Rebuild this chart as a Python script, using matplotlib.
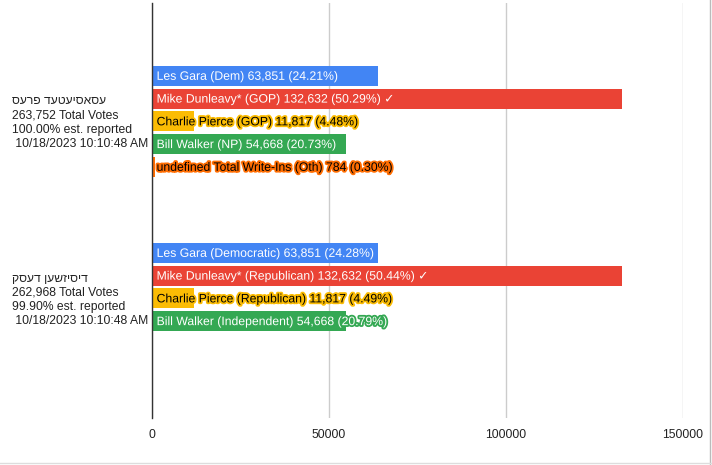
import matplotlib
matplotlib.use("Agg")
import matplotlib.pyplot as plt
import matplotlib.patheffects as pe
from matplotlib.lines import Line2D

plt.rcParams["font.family"] = ["Liberation Sans", "DejaVu Sans"]

# --- data ---
sources = ["עסאסיעטעד פרעס", "דיסיזשען דעסק"]
total_votes = ["263,752", "262,968"]
reported = ["100.00%", "99.90%"]
timestamps = ["10/18/2023 10:10:48 AM", "10/18/2023 10:10:48 AM"]

candidates = ["Les Gara", "Mike Dunleavy*", "Charlie Pierce", "Bill Walker",
              "undefined Total Write-Ins"]
parties_ap = ["Dem", "GOP", "GOP", "NP", "Oth"]
parties_dd = ["Democratic", "Republican", "Republican", "Independent", None]
votes_ap = [63851, 132632, 11817, 54668, 784]
votes_dd = [63851, 132632, 11817, 54668, None]
pct_ap = [24.21, 50.29, 4.48, 20.73, 0.30]
pct_dd = [24.28, 50.44, 4.49, 20.79, None]
winner = [False, True, False, False, False]

colors = ["#4285F4", "#EA4335", "#FBBC04", "#34A853", "#FF6D01"]
text_dark = [False, False, True, False, True]

fig = plt.figure(figsize=(7.12, 4.65), dpi=100)
W, H = 712, 465
ax = fig.add_axes([152 / W, 1 - 418 / H, (683 - 152) / W, (418 - 3) / H])

pitch = 0.1285
bar_h = 0.113
n = len(candidates)
series = [(parties_ap, votes_ap, pct_ap), (parties_dd, votes_dd, pct_dd)]

for gi, (parties, votes, pcts) in enumerate(series):
    for i in range(n):
        if votes[i] is None:
            continue
        y = gi + (i - (n - 1) / 2) * pitch
        ax.barh(y, votes[i], height=bar_h, color=colors[i], zorder=2)
        label = f"{candidates[i]} ({parties[i]}) {votes[i]:,} ({pcts[i]:.2f}%)"
        if winner[i]:
            label += " ✓"
        tc = "black" if text_dark[i] else "white"
        ax.text(1300, y + 0.005, label, ha="left", va="center", fontsize=8.8,
                color=tc, zorder=3,
                path_effects=[pe.withStroke(linewidth=2.6, foreground=colors[i])])

ax.set_xlim(0, 150000)
ax.set_ylim(1.675, -0.669)
ax.set_xticks([0, 50000, 100000, 150000])
ax.set_xticklabels(["0", "50000", "100000", "150000"])
ax.tick_params(axis="x", length=0, pad=8, labelsize=8.7, labelcolor="#222222")
ax.set_yticks([])
ax.grid(axis="x", color="#cccccc", linewidth=1, zorder=0)
for s in ["top", "right", "bottom"]:
    ax.spines[s].set_visible(False)
ax.spines["left"].set_color("#333333")
ax.spines["left"].set_linewidth(1)
ax.spines["left"].set_zorder(4)

# category labels on the left (glyph order reversed to match the visual order)
trans = matplotlib.transforms.blended_transform_factory(fig.transFigure, ax.transData)
for gi in range(len(sources)):
    txt = (f"{sources[gi][::-1]}\n{total_votes[gi]} Total Votes\n"
           f"{reported[gi]} est. reported\n {timestamps[gi]}")
    ax.text(12 / W, gi + 0.008, txt, transform=trans, ha="left", va="center",
            fontsize=8.7, color="#222222", linespacing=1.25)

# sheet border remnants
fig.add_artist(Line2D([710 / W, 710 / W], [0, 1], color="#bbbbbb", lw=1))
fig.add_artist(Line2D([0, 1], [1 - 463 / H, 1 - 463 / H], color="#dddddd", lw=1))

fig.savefig("out.png", dpi=100)
